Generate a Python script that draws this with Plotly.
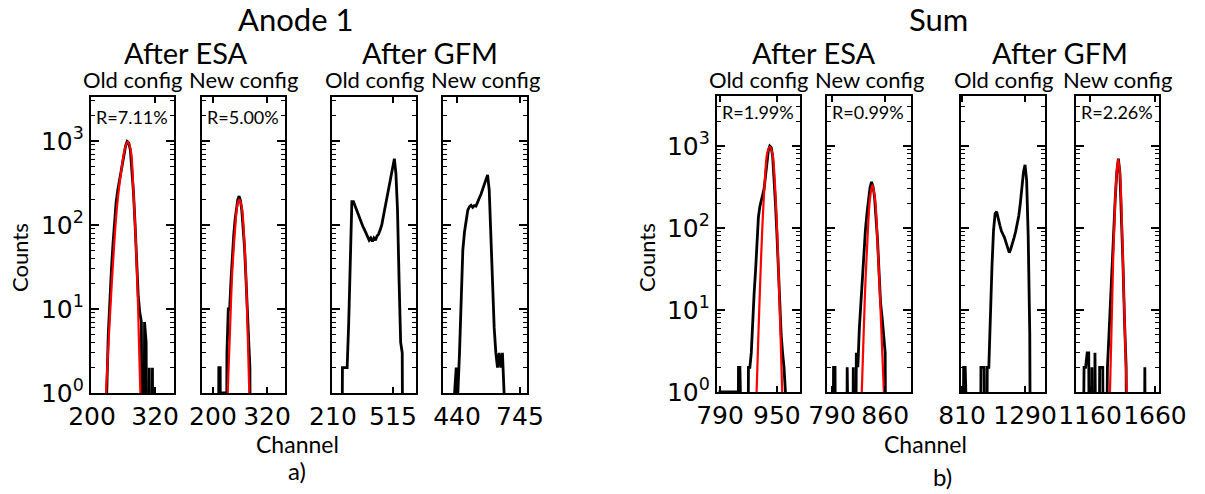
import numpy as np
import plotly.graph_objects as go

# ------------------------------------------------------------------
# Anode 1 spectra (channel, counts) and Gaussian-fit curves
# ------------------------------------------------------------------
ch_a1_esa_old = list(range(222, 319, 3))
cnt_a1_esa_old = [0, 0, 1, 5, 14, 30, 60, 110, 190, 260,
                  330, 440, 580, 740, 880, 990, 950, 780, 480, 240,
                  100, 38, 14, 9, 7, 0, 7, 4, 0, 2,
                  0, 2, 0]
fitch_a1_esa_old = [226.7, 231.1, 236.2, 241.9, 248.2, 256.6, 262.9, 268.0,
                    273.7, 278.7, 283.3, 287.1, 290.1, 292.0]
fit_a1_esa_old = [1, 3.6, 14, 55, 182, 490, 830, 980, 776, 261, 66, 14, 2.7, 1]

ch_a1_esa_new = list(range(210, 286, 3))
cnt_a1_esa_new = [0, 2, 2, 0, 1, 1, 0, 3, 10, 10,
                  22, 45, 75, 115, 165, 200, 221, 195, 150, 100,
                  55, 25, 10, 4, 2, 0]
fitch_a1_esa_new = [232.7, 237.8, 243.0, 249.0, 254.1, 258.5, 263.8, 269.6, 274.9, 280.7]
fit_a1_esa_new = [1, 5.6, 29, 87, 173, 200, 165, 66, 14, 1]

ch_a1_gfm_old = list(range(250, 571, 8))
cnt_a1_gfm_old = [0, 2, 2, 2, 2, 7, 40, 190, 190, 168,
                  150, 135, 118, 106, 96, 88, 80, 76, 66, 70,
                  64, 70, 66, 74, 78, 88, 100, 126, 160, 200,
                  250, 320, 420, 540, 615, 410, 150, 22, 4, 3,
                  0]

ch_a1_gfm_new = list(range(420, 677, 8))
cnt_a1_gfm_new = [0, 1, 2, 1, 3, 15, 50, 82, 118, 150,
                  165, 172, 162, 170, 168, 192, 210, 232, 265, 310,
                  360, 395, 260, 72, 22, 6, 3, 2, 3, 2,
                  3, 1, 0]

# ------------------------------------------------------------------
# Sum spectra
# ------------------------------------------------------------------
ch_sum_esa_old = list(range(786, 983, 4))
cnt_sum_esa_old = [1, 1, 1, 1, 1, 1, 1, 1, 1, 1,
                   1, 1, 1, 0, 2, 2, 0, 0, 0, 0,
                   0, 2, 2, 3, 9, 16, 30, 75, 135, 182,
                   215, 240, 300, 430, 660, 880, 1000, 960, 760, 430,
                   200, 86, 30, 12, 5, 3, 2, 1, 0, 0]
fitch_sum_esa_old = [893.0, 897.5, 902.3, 908.8, 916.3, 922.8, 930.4,
                     938.0, 944.4, 950.9, 956.5, 961.3, 964.9]
fit_sum_esa_old = [1, 4.3, 17.6, 95, 385, 815, 980, 776, 352, 86, 16, 3.6, 1]

ch_sum_esa_new = list(range(786, 867, 2))
cnt_sum_esa_new = [0, 0, 0, 2, 2, 0, 0, 0, 0, 0,
                   0, 0, 2, 0, 0, 0, 2, 0, 3, 2,
                   6, 12, 28, 55, 95, 150, 230, 310, 365, 320,
                   240, 145, 70, 28, 12, 8, 5, 3, 0, 0,
                   0]
fitch_sum_esa_new = [829.2, 831.4, 833.6, 836.6, 839.8, 843.2, 846.8,
                     849.8, 853.4, 856.4, 858.3]
fit_sum_esa_new = [1, 4.3, 17.6, 71, 219, 333, 219, 71, 13, 2.7, 1]

ch_sum_gfm_old = list(range(810, 1339, 12))
cnt_sum_gfm_old = [0, 2, 2, 0, 0, 0, 0, 0, 0, 0,
                   0, 0, 2, 2, 2, 0, 2, 2, 10, 34,
                   95, 150, 158, 125, 108, 92, 84, 76, 66, 58,
                   50, 56, 64, 76, 90, 110, 140, 200, 300, 480,
                   590, 385, 80, 5, 0]

ch_sum_gfm_new = list(range(1090, 1595, 12))
cnt_sum_gfm_new = [0, 0, 2, 2, 3, 3, 0, 2, 0, 3,
                   0, 0, 2, 2, 2, 0, 0, 2, 5, 14,
                   38, 105, 230, 480, 700, 470, 165, 35, 7, 2,
                   0, 0, 0, 0, 0, 0, 0, 0, 0, 0,
                   0, 2, 0]
fitch_sum_gfm_new = [1313.5, 1326.5, 1338.8, 1351.9, 1365.0, 1377.3,
                     1390.4, 1403.4, 1415.7, 1428.8, 1441.9]
fit_sum_gfm_new = [1, 6.9, 45, 182, 468, 690, 468, 151, 28, 5.2, 1]

# tick labels on the channel axes
xt_a1_esa_old = [200, 320]
xt_a1_esa_new = [200, 320]
xt_a1_gfm_old = [210, 515]
xt_a1_gfm_new = [440, 745]
xt_sum_esa_old = [790, 950]
xt_sum_esa_new = [790, 860]
xt_sum_gfm_old = [810, 1290]
xt_sum_gfm_new = [1160, 1660]

resolutions = ["R=7.11%", "R=5.00%", None, None, "R=1.99%", "R=0.99%", None, "R=2.26%"]

panels = [
    (ch_a1_esa_old, cnt_a1_esa_old, fitch_a1_esa_old, fit_a1_esa_old, xt_a1_esa_old),
    (ch_a1_esa_new, cnt_a1_esa_new, fitch_a1_esa_new, fit_a1_esa_new, xt_a1_esa_new),
    (ch_a1_gfm_old, cnt_a1_gfm_old, None, None, xt_a1_gfm_old),
    (ch_a1_gfm_new, cnt_a1_gfm_new, None, None, xt_a1_gfm_new),
    (ch_sum_esa_old, cnt_sum_esa_old, fitch_sum_esa_old, fit_sum_esa_old, xt_sum_esa_old),
    (ch_sum_esa_new, cnt_sum_esa_new, fitch_sum_esa_new, fit_sum_esa_new, xt_sum_esa_new),
    (ch_sum_gfm_old, cnt_sum_gfm_old, None, None, xt_sum_gfm_old),
    (ch_sum_gfm_new, cnt_sum_gfm_new, fitch_sum_gfm_new, fit_sum_gfm_new, xt_sum_gfm_new),
]

# ------------------------------------------------------------------
# Geometry (pixels) and axis limits
# ------------------------------------------------------------------
W, H = 1205, 494
def fx(px):
    return px / W
def fy(py):
    return 1 - py / H

boxes_x = [(91, 174), (202, 285), (332, 416), (443, 527),
           (717, 800), (827, 911), (961, 1045), (1076, 1159)]
boxes_y = [(97, 393)] * 4 + [(96, 392)] * 4
x_limits = [[198.1, 356], [175.6, 360], [205, 632], [372, 779],
            [781.6, 1015], [783.4, 894], [802, 1442], [1052, 1691]]
y_top = [3.524] * 4 + [3.61] * 4

TEXT_FONT = "Lato"
TICK_FONT = "DejaVu Sans"

major_y = [1, 10, 100, 1000]
major_y_text = ["10<sup>0</sup>", "10<sup>1</sup>", "10<sup>2</sup>", "10<sup>3</sup>"]
minor_y = [m * 10 ** e for e in range(0, 4) for m in range(2, 10) if m * 10 ** e < 4000]

fig = go.Figure()
layout = {}
annotations = []

for i, (ch, cnt, fch, fit, xt) in enumerate(panels):
    n = i + 1
    xref = "x" if n == 1 else f"x{n}"
    yref = "y" if n == 1 else f"y{n}"
    xkey = "xaxis" if n == 1 else f"xaxis{n}"
    ykey = "yaxis" if n == 1 else f"yaxis{n}"

    c = np.asarray(cnt, dtype=float)
    # empty channels are pushed far below the log floor so the trace drops to the axis
    c_draw = np.where(c > 0, c, 1e-4)
    fig.add_trace(go.Scatter(x=ch, y=c_draw, mode="lines",
                             line=dict(color="black", width=2.8),
                             xaxis=xref, yaxis=yref, hoverinfo="skip",
                             showlegend=False))
    if fch is not None:
        fig.add_trace(go.Scatter(x=fch, y=fit, mode="lines",
                                 line=dict(color="red", width=2.2, shape="spline",
                                           smoothing=1.0),
                                 xaxis=xref, yaxis=yref, hoverinfo="skip",
                                 showlegend=False))

    x0, x1 = boxes_x[i]
    y0, y1 = boxes_y[i]
    layout[xkey] = dict(
        domain=[fx(x0), fx(x1)], anchor=yref, range=x_limits[i],
        tickmode="array", tickvals=xt, ticktext=[str(v) for v in xt],
        tickangle=0, automargin=False,
        ticks="inside", ticklen=6, tickwidth=1.5, tickcolor="black",
        showline=True, linecolor="black", linewidth=2.2, mirror="ticks",
        showgrid=False, zeroline=False,
        tickfont=dict(family=TICK_FONT, size=25, color="black"),
    )
    layout[ykey] = dict(
        domain=[fy(y1), fy(y0)], anchor=xref, type="log", range=[0, y_top[i]],
        tickmode="array", tickvals=major_y, ticktext=major_y_text,
        showticklabels=(i in (0, 4)), automargin=False,
        ticks="inside", ticklen=8, tickwidth=1.5, tickcolor="black",
        minor=dict(tickmode="array", tickvals=minor_y, ticks="inside",
                   ticklen=4, tickwidth=1, tickcolor="black", showgrid=False),
        showline=True, linecolor="black", linewidth=2.2, mirror="ticks",
        showgrid=False, zeroline=False,
        tickfont=dict(family=TICK_FONT, size=25, color="black"),
    )

    if resolutions[i]:
        ry = 117 if i < 4 else 112
        annotations.append(dict(
            text=resolutions[i], x=fx(x0 + 3), y=fy(ry), xref="paper", yref="paper",
            xanchor="left", yanchor="middle", showarrow=False,
            font=dict(family=TEXT_FONT, size=18, color="black")))


def label(text, px, py, size, angle=0):
    annotations.append(dict(
        text=text, x=fx(px), y=fy(py), xref="paper", yref="paper",
        xanchor="center", yanchor="middle", showarrow=False, textangle=angle,
        font=dict(family=TEXT_FONT, size=size, color="black")))

# group titles
label("Anode 1", 295, 19, 31)
label("Sum", 938, 19, 31)
label("After ESA", 186, 52, 29)
label("After GFM", 430, 52, 29)
label("After ESA", 814, 52, 29)
label("After GFM", 1060, 52, 29)

# configuration headers over each panel
configs = ["Old config", "New config"] * 4
for i, txt in enumerate(configs):
    x0, x1 = boxes_x[i]
    label(txt, (x0 + x1) / 2, 79, 22)

# axis titles and sub-figure tags
label("Channel", 297, 444, 23)
label("Channel", 925, 444, 23)
label("a)", 297, 470, 24)
label("b)", 942, 476, 24)
label("Counts", 19, 258, 22, angle=-90)
label("Counts", 646, 258, 22, angle=-90)

fig.update_layout(
    width=W, height=H,
    margin=dict(l=0, r=0, t=0, b=0),
    paper_bgcolor="white", plot_bgcolor="white",
    showlegend=False,
    annotations=annotations,
    **layout,
)

fig.write_html("out.html")
